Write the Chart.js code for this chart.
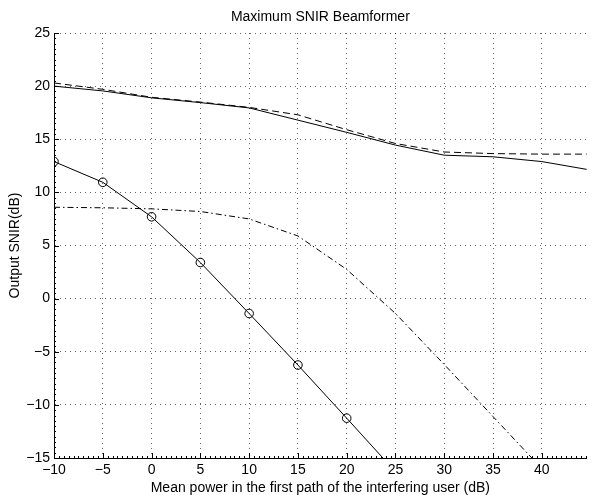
<!DOCTYPE html>
<html><head><meta charset="utf-8">
<script src="https://cdn.jsdelivr.net/npm/chart.js@4/dist/chart.umd.min.js"></script>
<style>html,body{margin:0;padding:0;background:#fff}canvas{display:block}</style>
</head><body>
<canvas id="c" width="592" height="495"></canvas>
<script>
const chartTitle = 'Maximum SNIR Beamformer';
const xTitle = 'Mean power in the first path of the interfering user (dB)';
const yTitle = 'Output SNIR(dB)';
const xs = [-10, -5, 0, 5, 10, 15, 20, 25, 30, 35, 40, 45];
const solidTop  = [20.0, 19.55, 18.9, 18.45, 17.95, 16.8, 15.65, 14.45, 13.5, 13.35, 12.9, 12.1];
const dashedTop = [20.3, 19.7, 18.95, 18.5, 18.0, 17.3, 15.9, 14.6, 13.8, 13.65, 13.6, 13.6];
const circled   = [12.9, 10.95, 7.7, 3.4, -1.4, -6.25, -11.25, -16.3];
const dashDot   = [8.6, 8.55, 8.45, 8.2, 7.5, 5.9, 2.75, -1.4, -6.2, -11.1, -16.0];
const xTicks = [-10, -5, 0, 5, 10, 15, 20, 25, 30, 35, 40];
const yTicks = [-15, -10, -5, 0, 5, 10, 15, 20, 25];

const pts = arr => arr.map((v, i) => ({x: xs[i], y: v}));
const minus = v => String(v).replace('-', '\u2212');
const FONT = 'Liberation Sans, Arial, Helvetica, sans-serif';

const titlePlugin = {
  id: 'topTitle',
  afterDraw(chart) {
    const ctx = chart.ctx, a = chart.chartArea;
    ctx.save();
    ctx.font = '14px ' + FONT;
    ctx.fillStyle = '#000';
    ctx.textAlign = 'center';
    ctx.textBaseline = 'alphabetic';
    ctx.fillText(chartTitle, (a.left + a.right) / 2, 21);
    ctx.restore();
  }
};
const bgPlugin = {
  id: 'bg',
  beforeDraw(chart) {
    const ctx = chart.ctx;
    ctx.save(); ctx.fillStyle = '#fff'; ctx.fillRect(0, 0, chart.width, chart.height); ctx.restore();
  }
};
// inward axis ticks (major and minor), matlab style
const inTicks = {
  id: 'inTicks',
  afterDatasetsDraw(chart) {
    const ctx = chart.ctx, a = chart.chartArea, xs_ = chart.scales.x, ys_ = chart.scales.y;
    ctx.save();
    ctx.strokeStyle = '#000';
    ctx.lineWidth = 1;
    ctx.beginPath();
    for (let v = xs_.min; v <= xs_.max + 1e-9; v += 0.5) {
      const px = Math.round(xs_.getPixelForValue(v)) + 0.5;
      const major = xTicks.includes(v);
      ctx.moveTo(px, a.bottom); ctx.lineTo(px, a.bottom - (major ? 5 : 2));
    }
    for (let v = ys_.min; v <= ys_.max + 1e-9; v += 0.5) {
      const py = Math.round(ys_.getPixelForValue(v)) + 0.5;
      const major = yTicks.includes(v);
      ctx.moveTo(a.left, py); ctx.lineTo(a.left + (major ? 5 : 2), py);
    }
    ctx.stroke();
    ctx.restore();
  }
};

const gridOpts = {color: 'rgba(0,0,0,0.6)', lineWidth: 1, drawTicks: false};
const borderOpts = {display: true, color: '#000', width: 1, dash: [1, 4]};

new Chart(document.getElementById('c'), {
  type: 'line',
  data: {
    datasets: [
      {data: pts(solidTop), borderColor: '#000', borderWidth: 1, pointRadius: 0, fill: false, tension: 0},
      {data: pts(dashedTop), borderColor: '#000', borderWidth: 1, borderDash: [7, 4], pointRadius: 0, fill: false, tension: 0},
      {data: pts(circled), borderColor: '#000', borderWidth: 1, fill: false, tension: 0,
       pointRadius: circled.map((v, i) => i < 7 ? 4.3 : 0), pointStyle: 'circle',
       pointBorderColor: '#000', pointBackgroundColor: 'rgba(0,0,0,0)', pointBorderWidth: 1},
      {data: pts(dashDot), borderColor: '#000', borderWidth: 1, borderDash: [6, 3, 1.5, 3], pointRadius: 0, fill: false, tension: 0}
    ]
  },
  options: {
    responsive: false,
    animation: false,
    layout: {padding: {top: 33, right: 2, left: 0, bottom: 0}},
    plugins: {legend: {display: false}, title: {display: false}, tooltip: {enabled: false}},
    scales: {
      x: {
        type: 'linear', min: -10, max: 44.6,
        afterBuildTicks: s => { s.ticks = xTicks.map(v => ({value: v})); },
        afterFit: s => { s.height = 37; },
        grid: gridOpts,
        border: borderOpts,
        ticks: {color: '#000', font: {family: FONT, size: 14}, padding: 4, maxRotation: 0, callback: v => minus(v)},
        title: {display: true, text: xTitle, color: '#000', font: {family: FONT, size: 14, lineHeight: 1}, padding: {top: 0, bottom: 0}}
      },
      y: {
        type: 'linear', min: -15, max: 25,
        afterBuildTicks: s => { s.ticks = yTicks.map(v => ({value: v})); },
        afterFit: s => { s.width = 54; },
        grid: gridOpts,
        border: borderOpts,
        ticks: {color: '#000', font: {family: FONT, size: 14}, padding: 4, callback: v => minus(v)},
        title: {display: true, text: yTitle, color: '#000', font: {family: FONT, size: 14}, padding: {top: 7, bottom: 0}}
      }
    }
  },
  plugins: [bgPlugin, titlePlugin, inTicks]
});
</script>
</body></html>
